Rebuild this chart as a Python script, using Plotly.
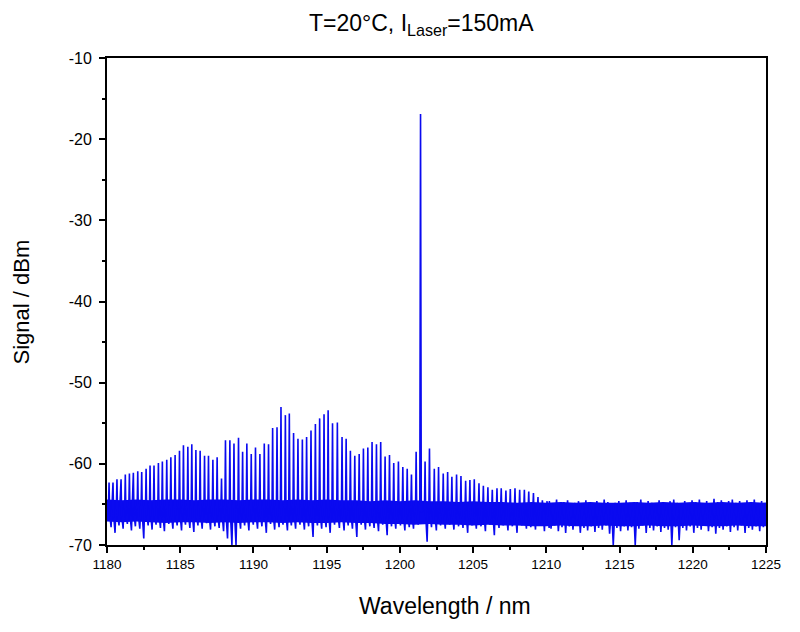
import plotly.graph_objects as go

# side modes (nm, dBm)
mode_wl = [
    1180.14, 1180.41, 1180.68, 1180.96, 1181.25, 1181.53, 1181.80, 1182.10, 1182.37, 1182.67,
    1182.94, 1183.21, 1183.51, 1183.78, 1184.08, 1184.36, 1184.65, 1184.95, 1185.22, 1185.52,
    1185.79, 1186.07, 1186.36, 1186.66, 1186.93, 1187.23, 1187.52, 1187.82, 1188.09, 1188.39,
    1188.67, 1188.98, 1189.26, 1189.55, 1189.85, 1190.14, 1190.44, 1190.74, 1191.03, 1191.31,
    1191.61, 1191.88, 1192.18, 1192.45, 1192.74, 1193.04, 1193.34, 1193.63, 1193.93, 1194.23,
    1194.52, 1194.82, 1195.10, 1195.40, 1195.73, 1196.05, 1196.33, 1196.62, 1196.92, 1197.22,
    1197.51, 1197.81, 1198.10, 1198.40, 1198.69, 1198.99, 1199.29, 1199.58, 1199.90, 1200.20,
    1200.50, 1200.79, 1201.11, 1201.72, 1202.02, 1202.35, 1202.64, 1202.96, 1203.26, 1203.55,
    1203.87, 1204.17, 1204.49, 1204.78, 1205.08, 1205.40, 1205.70, 1206.01, 1206.31, 1206.63,
    1206.92, 1207.24, 1207.54, 1207.86, 1208.18, 1208.50, 1208.80, 1209.12, 1209.43, 1209.73,
    1210.05,
]
mode_dbm = [
    -62.3, -62.3, -61.9, -61.9, -61.3, -61.2, -61.1, -60.9, -61.0, -60.6,
    -60.2, -60.2, -59.9, -59.7, -59.5, -59.2, -58.9, -58.4, -57.7, -57.9,
    -57.6, -58.3, -58.4, -59.0, -59.0, -59.5, -59.2, -61.8, -57.1, -57.1,
    -57.5, -56.8, -58.5, -57.5, -58.8, -58.0, -58.8, -57.5, -57.6, -55.6,
    -55.5, -53.0, -54.0, -53.8, -56.2, -56.9, -57.0, -56.7, -55.9, -55.1,
    -54.4, -53.9, -53.4, -55.0, -54.9, -56.7, -56.9, -58.4, -59.0, -58.8,
    -58.1, -58.0, -57.3, -57.6, -57.3, -59.1, -58.9, -59.9, -59.7, -60.4,
    -60.6, -61.3, -58.5, -59.7, -58.1, -60.6, -60.4, -61.2, -61.0, -61.6,
    -61.3, -61.5, -62.1, -62.0, -61.9, -62.4, -62.7, -62.9, -63.2, -63.0,
    -63.0, -63.3, -63.1, -63.0, -63.2, -63.2, -63.4, -63.6, -64.1, -64.5,
    -64.6,
]
# dip of the floor just after each side mode
trough_dbm = [
    -67.8, -68.5, -67.6, -68.0, -67.4, -68.2, -67.7, -68.0, -69.2, -67.6,
    -68.1, -67.5, -67.9, -68.3, -67.4, -68.0, -67.6, -68.2, -67.5, -67.9,
    -68.4, -67.6, -68.0, -67.3, -68.1, -67.7, -67.9, -68.3, -69.2, -70.0,
    -70.0, -68.0, -67.6, -68.2, -67.5, -68.0, -67.7, -68.5, -67.4, -68.1,
    -67.8, -67.5, -68.2, -67.6, -68.0, -67.5, -68.1, -67.7, -69.0, -67.6,
    -68.0, -67.8, -68.5, -67.5, -67.9, -68.2, -67.6, -68.0, -69.0, -67.5,
    -68.1, -67.7, -67.9, -68.3, -67.5, -68.8, -67.7, -68.0, -67.6, -68.2,
    -67.8, -68.0, -67.5, -69.6, -67.8, -68.2, -67.6, -68.0, -67.5, -68.1,
    -67.7, -67.9, -68.5, -67.6, -68.0, -67.7, -68.3, -67.5, -68.8, -67.9,
    -67.6, -68.2, -67.7, -68.5, -67.6, -68.0, -67.8, -68.1, -67.6, -68.3,
    -67.9,
]
main_wl = 1201.41
main_dbm = -16.9

# noise floor beyond the last side mode, 1210.2 .. 1225 nm
floor_wl = [1210.20 + 0.25 * i for i in range(60)]
floor_hi = [
    -64.6, -64.9, -64.4, -65.0, -64.7, -64.5, -65.1, -64.8, -64.6, -64.9,
    -64.5, -64.8, -65.0, -64.6, -64.9, -64.4, -64.7, -65.1, -64.8, -64.6,
    -64.9, -64.5, -64.8, -65.0, -64.7, -64.4, -64.9, -64.6, -64.8, -65.1,
    -64.5, -64.7, -64.9, -64.6, -64.4, -64.8, -65.0, -64.6, -64.9, -64.5,
    -64.7, -64.4, -64.9, -64.6, -65.0, -64.3, -64.7, -64.5, -64.9, -64.6,
    -64.4, -64.8, -64.6, -65.0, -64.5, -64.7, -64.4, -64.9, -64.6, -64.8,
]
floor_lo = [
    -68.0, -67.6, -68.3, -67.8, -68.5, -67.7, -68.1, -67.6, -68.5, -67.9,
    -68.2, -67.7, -68.4, -67.9, -68.1, -67.6, -68.6, -70.0, -67.9, -68.3,
    -67.7, -68.2, -67.8, -70.0, -68.0, -67.6, -68.5, -67.9, -68.2, -67.7,
    -68.4, -67.9, -68.1, -70.0, -67.8, -69.4, -67.9, -68.2, -67.7, -68.5,
    -67.9, -68.1, -67.6, -68.3, -67.8, -68.6, -67.9, -68.1, -67.7, -68.4,
    -67.8, -68.2, -67.6, -68.5, -67.9, -68.1, -67.7, -68.3, -67.8, -68.0,
]

# dense core of the noise band, 1 nm steps from 1180 nm
band_wl = [1180 + i for i in range(46)]
band_top = [
    -64.4, -64.5, -64.4, -64.5, -64.4, -64.4, -64.5, -64.4, -64.4, -64.5,
    -64.4, -64.4, -64.5, -64.4, -64.5, -64.4, -64.5, -64.5, -64.6, -64.5,
    -64.6, -64.5, -64.6, -64.6, -64.7, -64.6, -64.7, -64.7, -64.8, -64.7,
    -64.8, -64.7, -64.8, -64.7, -64.8, -64.8, -64.7, -64.8, -64.7, -64.8,
    -64.7, -64.8, -64.7, -64.8, -64.7, -64.8,
]
band_bot = [
    -67.1, -67.2, -67.1, -67.2, -67.3, -67.2, -67.2, -67.3, -67.2, -67.3,
    -67.2, -67.2, -67.3, -67.2, -67.3, -67.3, -67.2, -67.3, -67.3, -67.4,
    -67.4, -67.5, -67.4, -67.5, -67.5, -67.6, -67.5, -67.6, -67.6, -67.7,
    -67.7, -67.6, -67.7, -67.7, -67.6, -67.7, -67.7, -67.6, -67.7, -67.7,
    -67.6, -67.7, -67.7, -67.6, -67.7, -67.7,
]

y_ticks = [-70, -60, -50, -40, -30, -20, -10]
y_labels = ["-70", "-60", "-50", "-40", "-30", "-20", "-10"]

blue = "rgb(10,10,240)"

# build the spectrum trace: each mode goes band -> peak -> dip
xs = [1180.0]
ys = [-65.6]
for w, p, t in zip(mode_wl, mode_dbm, trough_dbm):
    if w > main_wl and xs[-1] < main_wl:
        xs += [main_wl - 0.05, main_wl, main_wl + 0.05]
        ys += [-65.8, main_dbm, -66.0]
    xs += [w - 0.04, w, w + 0.04, w + 0.14, w + 0.2]
    ys += [-65.4, p, -66.2, t, -65.2]
for w, hi, lo in zip(floor_wl, floor_hi, floor_lo):
    xs += [w, w + 0.12]
    ys += [hi, lo]
xs.append(1225.0)
ys.append(-66.0)

fig = go.Figure()
fig.add_trace(go.Scatter(
    x=band_wl + band_wl[::-1],
    y=band_top + band_bot[::-1],
    fill="toself", fillcolor=blue, line=dict(width=0),
    mode="lines", hoverinfo="skip", showlegend=False,
))
fig.add_trace(go.Scatter(
    x=xs, y=ys, mode="lines",
    line=dict(color=blue, width=1.6),
    showlegend=False,
))

font_name = "Liberation Sans, Arial, sans-serif"

fig.update_xaxes(
    range=[1180, 1225], dtick=5, tick0=1180,
    showline=True, linecolor="black", linewidth=2, mirror=True,
    ticks="outside", ticklen=6, tickwidth=1.5, tickcolor="black",
    minor=dict(dtick=2.5, ticks="outside", ticklen=3, tickcolor="black"),
    showgrid=False, zeroline=False,
    tickfont=dict(family=font_name, size=13.5, color="black"),
)
fig.update_yaxes(
    range=[-70, -10], tickvals=y_ticks, ticktext=y_labels,
    showline=True, linecolor="black", linewidth=2, mirror=True,
    ticks="outside", ticklen=6, tickwidth=1.5, tickcolor="black",
    minor=dict(dtick=5, tick0=-70, ticks="outside", ticklen=3, tickcolor="black"),
    showgrid=False, zeroline=False, ticklabelstandoff=4,
    tickfont=dict(family=font_name, size=16, color="black"),
)

fig.add_annotation(
    text="T=20°C, I<sub>Laser</sub>=150mA",
    x=0.4765, y=1.103, xref="paper", yref="paper",
    xanchor="center", yanchor="top", showarrow=False,
    font=dict(family=font_name, size=23, color="black"),
)
fig.add_annotation(
    text="Wavelength / nm",
    x=0.513, y=-0.125, xref="paper", yref="paper",
    xanchor="center", yanchor="middle", showarrow=False,
    font=dict(family=font_name, size=23, color="black"),
)
fig.add_annotation(
    text="Signal / dBm", textangle=-90,
    x=-0.129, y=0.5, xref="paper", yref="paper",
    xanchor="center", yanchor="middle", showarrow=False,
    font=dict(family=font_name, size=22, color="black"),
)

fig.update_layout(
    width=784, height=616,
    margin=dict(l=99, r=26, t=50, b=79),
    plot_bgcolor="white", paper_bgcolor="white",
)

fig.write_html("out.html")
